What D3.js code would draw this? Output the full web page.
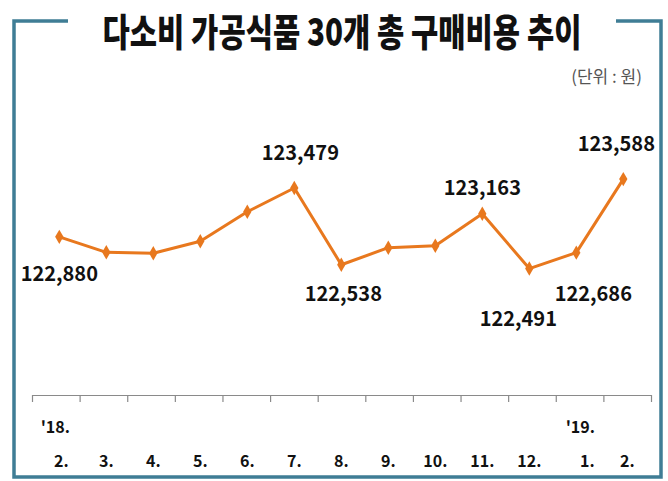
<!DOCTYPE html>
<html><head><meta charset="utf-8">
<script src="https://cdn.jsdelivr.net/npm/d3@7"></script>
<style>
html,body{margin:0;padding:0;background:#fff;}
svg{display:block;}
</style>
</head><body>
<svg id="chart" width="668" height="481"></svg>
<script>
// ---- data ----
const title = "다소비 가공식품 30개 총 구매비용 추이";
const unitLabel = "(단위 : 원)";
const months = ["2.","3.","4.","5.","6.","7.","8.","9.","10.","11.","12.","1.","2."];
const years = [{i:0, label:"'18."},{i:11, label:"'19."}];
const values = [122880, 122690, 122678, 122825, 123188, 123479, 122538, 122747, 122771, 123163, 122491, 122686, 123588];
const labeledIdx = [0, 5, 6, 9, 10, 11, 12];

// ---- layout (not data) ----
const labelOffset = {0:[0,36], 5:[6,-36], 6:[2,28], 9:[0,-27], 10:[-11,49], 11:[17,40], 12:[-7,-37]};
const monthDx = {11:11, 0:2, 12:4};
const yearDx = {0:-4, 11:4};

const svg = d3.select("#chart");
const frameColor = "#3f7d95";
const lineColor = "#e8781e";
const font = "'Noto Sans CJK KR','Noto Sans',sans-serif";

// frame
const fl = 14, fr = 661, ft = 21, fb = 477;
svg.append("path").attr("d",`M68,${ft} H${fl} V${fb} H${fr} V${ft} H616`)
  .attr("fill","none").attr("stroke",frameColor).attr("stroke-width",3.5);

// title (condensed horizontally)
const tg = svg.append("g").attr("transform","translate(342,29) scale(0.78,1)");
tg.append("text").attr("x",0).attr("y",0).attr("text-anchor","middle")
  .attr("dominant-baseline","central")
  .attr("font-family",font).attr("font-weight",900).attr("font-size",38)
  .attr("fill","#111").text(title);

svg.append("text").attr("x",642).attr("y",75).attr("text-anchor","end")
  .attr("dominant-baseline","central")
  .attr("font-family",font).attr("font-size",17).attr("fill","#555").text(unitLabel);

// scales
const x = d3.scalePoint().domain(d3.range(values.length)).range([59.3, 623.3]);
const xEdge = d3.scaleLinear().domain([0, values.length]).range([32, 651]);
const y = d3.scaleLinear().domain([122000, 124000]).range([308.6, 145.5]);

// axis
const axisY = 395;
const ax = svg.append("g").attr("transform",`translate(0,${axisY})`)
  .call(d3.axisBottom(xEdge).tickValues(d3.range(values.length+1)).tickSize(7).tickFormat("").tickSizeOuter(0));
ax.selectAll("path,line").attr("stroke","#8a8a8a").attr("stroke-width",1.2);

// month labels
svg.append("g").selectAll("text").data(months).join("text")
  .attr("x",(d,i)=>x(i)+(monthDx[i]||0)).attr("y",460)
  .attr("text-anchor","middle").attr("dominant-baseline","central")
  .attr("font-family",font).attr("font-weight",700).attr("font-size",16).attr("fill","#111")
  .text(d=>d);
svg.append("g").selectAll("text").data(years).join("text")
  .attr("x",d=>x(d.i)+(yearDx[d.i]||0)).attr("y",426)
  .attr("text-anchor","middle").attr("dominant-baseline","central")
  .attr("font-family",font).attr("font-weight",700).attr("font-size",16).attr("fill","#111")
  .text(d=>d.label);

// line
const line = d3.line().x((d,i)=>x(i)).y(d=>y(d));
svg.append("path").datum(values).attr("d",line)
  .attr("fill","none").attr("stroke",lineColor).attr("stroke-width",3).attr("stroke-linejoin","round");

// markers
const sym = d3.symbol().type(d3.symbolDiamond).size(60);
svg.append("g").selectAll("path").data(values).join("path")
  .attr("transform",(d,i)=>`translate(${x(i)},${y(d)})`)
  .attr("d",sym).attr("fill",lineColor);

// value labels
const fmt = d3.format(",");
svg.append("g").selectAll("text").data(labeledIdx).join("text")
  .attr("x",i=>x(i)+labelOffset[i][0]).attr("y",i=>y(values[i])+labelOffset[i][1])
  .attr("text-anchor","middle").attr("dominant-baseline","central")
  .attr("font-family",font).attr("font-weight",700).attr("font-size",20).attr("fill","#111")
  .text(i=>fmt(values[i]));
</script>
</body></html>
